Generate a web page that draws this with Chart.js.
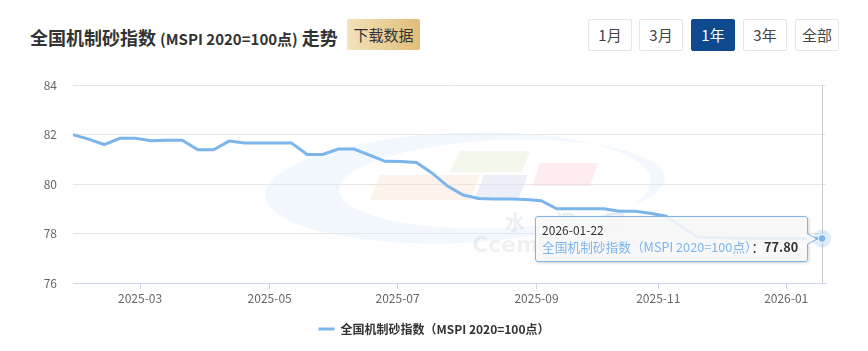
<!DOCTYPE html>
<html>
<head>
<meta charset="utf-8">
<script src="https://cdn.jsdelivr.net/npm/chart.js@4/dist/chart.umd.min.js"></script>
<style>
body{margin:0;background:#fff;font-family:"Noto Sans CJK SC","Noto Sans",sans-serif;}
#wrap{position:relative;width:868px;height:351px;overflow:hidden;}
.title{position:absolute;left:30px;top:24px;font-size:18px;font-weight:bold;color:#333;line-height:26px;white-space:nowrap;}
.title small{font-size:15px;}
.dl{position:absolute;left:347px;top:19px;width:73px;height:31px;background:linear-gradient(90deg,#f3e2bb,#e0bd79);border-radius:2px;font-size:15px;line-height:31px;text-align:center;color:#333;}
.rng{position:absolute;top:19px;height:32px;width:44px;border:1px solid #e6e6e6;box-sizing:border-box;font-size:15px;line-height:30px;text-align:center;color:#444;border-radius:2px;}
.rng.on{background:#0f4a8e;color:#fff;border-color:#0f4a8e;}
#box{position:absolute;left:0;top:62px;width:868px;height:289px;}
#tip{position:absolute;display:none;background:rgba(247,247,247,0.88);border:1px solid #7cb5ec;border-radius:3px;box-shadow:1px 1px 3px rgba(0,0,0,0.18);padding:5px 9px 5px 6px;white-space:nowrap;color:#333;}
#tip .d{font-size:12px;line-height:16px;}
#tip .v{font-size:12.7px;line-height:18px;}
#tip .v span{color:#7cb5ec;}
#tip:after,#tip:before{content:"";position:absolute;top:50%;border-style:solid;border-color:transparent;}
#tip:before{right:-11px;margin-top:-6px;border-width:6px 0 6px 11px;border-left-color:#7cb5ec;}
#tip:after{right:-9px;margin-top:-5px;border-width:5px 0 5px 9px;border-left-color:#f7f7f7;}
</style>
</head>
<body>
<div id="wrap">
  <div class="title">全国机制砂指数 <small>(MSPI 2020=100点)</small> 走势</div>
  <div class="dl">下载数据</div>
  <div class="rng" style="left:588px">1月</div>
  <div class="rng" style="left:639px">3月</div>
  <div class="rng on" style="left:691px">1年</div>
  <div class="rng" style="left:743px">3年</div>
  <div class="rng" style="left:795px">全部</div>
  <div id="box"><canvas id="c"></canvas><div id="tip"></div></div>
</div>
<script>
var seriesName = "全国机制砂指数（MSPI 2020=100点）";
var lastDate = "2026-01-22";

// weekly index values, equally spaced (ordinal axis)
var mspi = [82.0, 81.82, 81.6, 81.85, 81.85, 81.75, 81.77, 81.77, 81.39, 81.39,
	81.74, 81.66, 81.66, 81.66, 81.66, 81.2, 81.2, 81.42, 81.42, 81.17,
	80.92, 80.91, 80.87, 80.45, 79.92, 79.56, 79.42, 79.4, 79.4, 79.38,
	79.33, 79.0, 79.0, 79.0, 79.0, 78.9, 78.9, 78.82, 78.7, 78.28,
	77.86, 77.84, 77.82, 77.81, 77.8, 77.8, 77.8, 77.8, 77.8];

var tickLabels = ["2025-03", "2025-05", "2025-07", "2025-09", "2025-11", "2026-01"];
var tickPos = [4.3, 12.6, 20.8, 29.7, 37.5, 45.7];

var points = [];
for (var i = 0; i < mspi.length; i++) {
	points.push({x: i, y: mspi[i]});
}

function poly(ctx, pts, color) {
	ctx.beginPath();
	ctx.moveTo(pts[0], pts[1]);
	for (var k = 2; k < pts.length; k += 2) ctx.lineTo(pts[k], pts[k + 1]);
	ctx.closePath();
	ctx.fillStyle = color;
	ctx.fill();
}

// faint site logo behind the line
var watermark = {
	id: 'watermark',
	beforeDatasetsDraw: function(chart) {
		var ctx = chart.ctx;
		ctx.save();
		ctx.translate(0, -62);
		ctx.beginPath();
		ctx.ellipse(458, 188, 193, 55, -0.04, 0, Math.PI * 2);
		ctx.ellipse(502, 184, 163, 44, -0.04, 0, Math.PI * 2);
		ctx.fillStyle = 'rgba(222,236,249,0.38)';
		ctx.fill('evenodd');
		poly(ctx, [380, 175, 480, 175, 470, 200, 370, 200], 'rgba(250,228,214,0.45)');
		poly(ctx, [460, 151, 530, 151, 522, 172, 450, 172], 'rgba(228,238,212,0.45)');
		poly(ctx, [484, 175, 528, 175, 518, 200, 474, 200], 'rgba(218,224,240,0.5)');
		poly(ctx, [540, 163, 598, 163, 590, 186, 532, 186], 'rgba(250,214,220,0.45)');
		ctx.fillStyle = 'rgba(190,200,215,0.3)';
		ctx.font = 'bold 20px "Noto Sans CJK SC"';
		ctx.fillText('水', 505, 222);
		ctx.fillText('泥', 555, 222);
		ctx.fillText('网', 605, 222);
		ctx.fillStyle = 'rgba(200,200,200,0.28)';
		ctx.font = 'bold 22px "DejaVu Sans"';
		ctx.fillText('Ccement.com', 472, 246);
		ctx.restore();
	}
};

var hoverMark = {
	id: 'hoverMark',
	beforeDatasetsDraw: function(chart) {
		var act = chart.getActiveElements();
		if (!act.length) return;
		var a = chart.chartArea, ctx = chart.ctx, x = Math.round(act[0].element.x) + 0.5;
		ctx.save();
		ctx.strokeStyle = '#cccccc';
		ctx.lineWidth = 1;
		ctx.beginPath();
		ctx.moveTo(x, a.top);
		ctx.lineTo(x, a.bottom);
		ctx.stroke();
		ctx.restore();
	},
	afterDatasetsDraw: function(chart) {
		var act = chart.getActiveElements();
		if (!act.length) return;
		var el = act[0].element, ctx = chart.ctx;
		ctx.save();
		ctx.beginPath();
		ctx.arc(el.x, el.y, 9, 0, Math.PI * 2);
		ctx.fillStyle = 'rgba(124,181,236,0.25)';
		ctx.fill();
		ctx.beginPath();
		ctx.arc(el.x, el.y, 4, 0, Math.PI * 2);
		ctx.fillStyle = '#7cb5ec';
		ctx.fill();
		ctx.strokeStyle = '#ffffff';
		ctx.lineWidth = 1;
		ctx.stroke();
		ctx.restore();
	}
};

function htmlTip(context) {
	var t = context.tooltip;
	var el = document.getElementById('tip');
	if (t.opacity === 0 || !t.dataPoints || !t.dataPoints.length) {
		el.style.display = 'none';
		return;
	}
	var p = t.dataPoints[0];
	el.innerHTML = '<div class="d">' + lastDate + '</div><div class="v"><span>' + seriesName +
		'</span>：<b>' + p.parsed.y.toFixed(2) + '</b></div>';
	el.style.display = 'block';
	el.style.left = (t.caretX - 14 - el.offsetWidth) + 'px';
	el.style.top = (t.caretY - el.offsetHeight / 2 + 1) + 'px';
}

var chart = new Chart(document.getElementById('c'), {
	type: 'line',
	data: {
		datasets: [{
			label: seriesName,
			data: points,
			borderColor: '#7cb5ec',
			backgroundColor: '#7cb5ec',
			borderWidth: 3,
			pointRadius: 0,
			pointHoverRadius: 0,
			tension: 0,
			fill: false
		}]
	},
	options: {
		responsive: true,
		maintainAspectRatio: false,
		animation: false,
		events: [],
		layout: { padding: { top: 13, right: 0, bottom: 6, left: 0 } },
		scales: {
			x: {
				type: 'linear',
				min: 0,
				max: 48.25,
				afterBuildTicks: function(s) {
					s.ticks = tickPos.map(function(v) { return {value: v}; });
				},
				afterFit: function(s) { s.height = 30; },
				ticks: {
					autoSkip: false,
					maxRotation: 0,
					color: '#666',
					font: { size: 12, family: '"Noto Sans CJK SC"' },
					padding: 2,
					callback: function(v, i) { return tickLabels[i]; }
				},
				grid: { drawOnChartArea: false, color: '#ccd6eb', tickLength: 6 },
				border: { color: '#ccd6eb' }
			},
			y: {
				min: 76,
				max: 84,
				afterFit: function(s) { s.width = 73; },
				ticks: {
					stepSize: 2,
					color: '#666',
					font: { size: 12, family: '"Noto Sans CJK SC"' },
					padding: 16
				},
				grid: { color: '#e6e6e6', drawTicks: false },
				border: { display: false }
			},
			// empty right margin so the legend centres on the full width
			yRight: {
				position: 'right',
				min: 76,
				max: 84,
				afterFit: function(s) { s.width = 42; },
				ticks: { display: false },
				grid: { display: false },
				border: { display: false }
			}
		},
		plugins: {
			legend: {
				position: 'bottom',
				labels: {
					boxWidth: 16,
					boxHeight: 3,
					padding: 10,
					color: '#333',
					font: { size: 12, weight: 'bold', family: '"Noto Sans CJK SC"' },
					generateLabels: function(c) {
						var items = Chart.defaults.plugins.legend.labels.generateLabels(c);
						items.forEach(function(it) { it.lineWidth = 0; it.fillStyle = '#7cb5ec'; });
						return items;
					}
				}
			},
			tooltip: {
				enabled: false,
				mode: 'nearest',
				intersect: false,
				external: htmlTip
			}
		}
	},
	plugins: [watermark, hoverMark]
});

var lastIdx = mspi.length - 1;
chart.setActiveElements([{datasetIndex: 0, index: lastIdx}]);
chart.tooltip.setActiveElements([{datasetIndex: 0, index: lastIdx}], {x: 0, y: 0});
chart.update();
</script>
</body>
</html>
